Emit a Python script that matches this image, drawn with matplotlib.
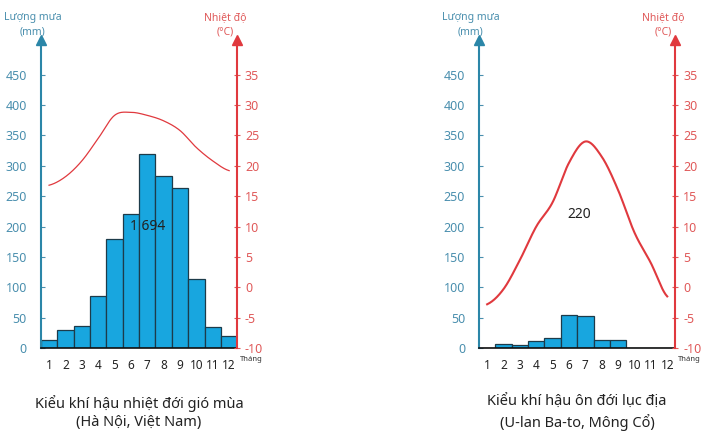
import matplotlib
matplotlib.use("Agg")
import matplotlib.pyplot as plt
import numpy as np

months = list(range(1, 13))
month_labels = [str(m) for m in months]
rain_hn = [14, 29, 36, 85, 180, 220, 319, 283, 264, 114, 35, 20]
temp_hn = [16.8, 18.2, 20.8, 24.5, 28.3, 28.8, 28.3, 27.4, 25.8, 23.0, 20.8, 19.2]
rain_ub = [0, 7, 5, 11, 16, 55, 52, 14, 14, 0, 0, 0]
temp_ub = [-2.8, -0.3, 4.5, 10.0, 14.0, 20.5, 24.0, 21.5, 16.0, 9.0, 4.0, -1.5]
total_hn = "1 694"
total_ub = "220"
title_hn = "Kiểu khí hậu nhiệt đới gió mùa\n(Hà Nội, Việt Nam)"
title_ub = "Kiểu khí hậu ôn đới lục địa\n(U-lan Ba-to, Mông Cổ)"

BLUE = "#2b86a8"
BLUE_T = "#4a8fae"
RED = "#e0393e"
RED_T = "#e05a5a"
BAR = "#18a6df"

plt.rcParams['font.family'] = ['Noto Sans', 'DejaVu Sans']
plt.rcParams['axes.unicode_minus'] = False
fig = plt.figure(figsize=(7.17, 4.4), dpi=100)

def smooth(x, y, n=20):
    xs, ys = [], []
    x = np.asarray(x, float); y = np.asarray(y, float)
    P = np.concatenate([[y[0]], y, [y[-1]]])
    X = np.concatenate([[x[0]-1], x, [x[-1]+1]])
    for i in range(1, len(P)-2):
        for t in np.linspace(0, 1, n, endpoint=False):
            t2, t3 = t*t, t*t*t
            f = lambda p: 0.5*((2*p[1]) + (-p[0]+p[2])*t + (2*p[0]-5*p[1]+4*p[2]-p[3])*t2 + (-p[0]+3*p[1]-3*p[2]+p[3])*t3)
            xs.append(f(X[i-1:i+3])); ys.append(f(P[i-1:i+3]))
    xs.append(x[-1]); ys.append(y[-1])
    return xs, ys

def panel(left, rain, temp, total, total_xy, title, lw):
    ax = fig.add_axes([left, 0.209, 0.274, 0.70])
    ax.bar(months, rain, width=1.0, color=BAR, edgecolor="#1d3b4a", linewidth=0.9, zorder=2)
    ax.set_xlim(0.5, 12.5)
    ax.set_ylim(0, 507)
    ax.set_yticks(range(0, 451, 50))
    ax.set_xticks(months)
    ax.set_xticklabels(month_labels, fontsize=8.5, color="#222222")
    ax.tick_params(axis='y', colors=BLUE_T, labelsize=9, length=3, direction='in', pad=10)
    ax.tick_params(axis='x', length=0, pad=8)
    ax.spines['top'].set_visible(False)
    ax.spines['right'].set_visible(False)
    ax.spines['left'].set_color(BLUE); ax.spines['left'].set_linewidth(1.5)
    ax.spines['bottom'].set_color("#111111"); ax.spines['bottom'].set_linewidth(1.2)
    ax.plot([0.5], [507], marker='^', color=BLUE, markersize=7, clip_on=False, zorder=5)
    ax2 = ax.twinx()
    ax2.set_ylim(-10, 40.7)
    ax2.set_yticks(range(-10, 36, 5))
    ax2.tick_params(axis='y', colors=RED_T, labelsize=9, length=4, direction='inout')
    for s in ['top', 'left', 'bottom']:
        ax2.spines[s].set_visible(False)
    ax2.spines['right'].set_color(RED); ax2.spines['right'].set_linewidth(1.5)
    ax2.plot([12.5], [40.7], marker='^', color=RED, markersize=7, clip_on=False, zorder=5)
    xs, ys = smooth(months, temp)
    ax2.plot(xs, ys, color=RED, linewidth=lw)
    ax.text(total_xy[0], total_xy[1], total, fontsize=10, fontweight='bold', ha='center', va='center', color="#222222", zorder=4)
    x0 = left * 717
    x1 = x0 + 0.274 * 717
    fig.text((x0 - 8) / 717, 1 - 37 / 440, "Lượng mưa\n(mm)", fontsize=7.5, color=BLUE_T, ha='center', va='bottom', linespacing=1.4)
    fig.text((x1 - 12) / 717, 1 - 37 / 440, "Nhiệt độ\n(°C)", fontsize=7.5, color=RED_T, ha='center', va='bottom', linespacing=1.4)
    fig.text((x1 + 14) / 717, 1 - 356 / 440, "Tháng", fontsize=5.5, color="#333333", ha='center', va='top')
    fig.text((x0 + x1) / 2 / 717, 1 - 395 / 440, title, fontsize=10.5, ha='center', va='top', color="#222222", linespacing=1.3)

panel(0.057, rain_hn, temp_hn, total_hn, (7.0, 200), title_hn, 0.9)
panel(0.668, rain_ub, temp_ub, total_ub, (6.6, 220), title_ub, 1.5)

fig.savefig("out.png", dpi=100)
